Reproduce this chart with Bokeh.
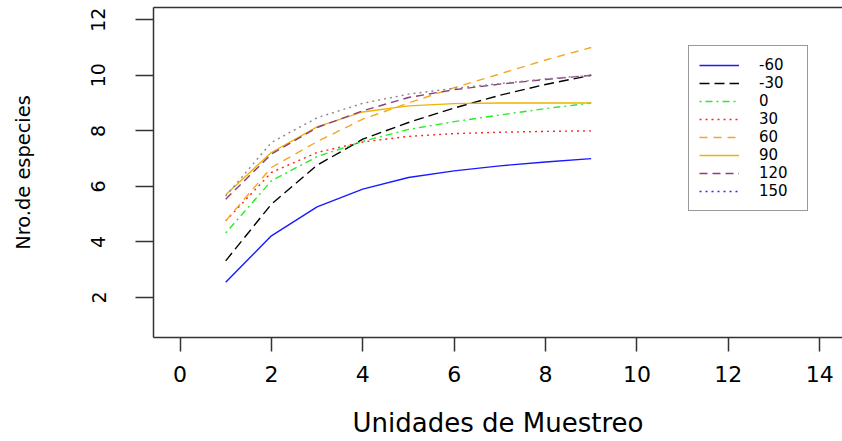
from bokeh.plotting import figure
from bokeh.models import (Range1d, LinearAxis, FixedTicker, Legend, LegendItem,
                          ColumnDataSource)
from bokeh.embed import file_html
from bokeh.resources import INLINE

# ---- data -------------------------------------------------------------
units = [1, 2, 3, 4, 5, 6, 7, 8, 9]
series_names = ["-60", "-30", "0", "30", "60", "90", "120", "150"]
s_m60 = [2.55, 4.22, 5.26, 5.90, 6.32, 6.56, 6.74, 6.88, 7.00]
s_m30 = [3.32, 5.36, 6.76, 7.70, 8.30, 8.82, 9.28, 9.67, 10.00]
s_0 = [4.32, 6.20, 7.07, 7.62, 8.05, 8.33, 8.57, 8.80, 9.00]
s_30 = [4.76, 6.50, 7.22, 7.60, 7.80, 7.90, 7.95, 7.98, 8.00]
s_60 = [4.76, 6.68, 7.61, 8.42, 9.00, 9.55, 10.05, 10.55, 11.00]
s_90 = [5.70, 7.22, 8.14, 8.68, 8.90, 8.98, 9.00, 9.00, 9.00]
s_120 = [5.54, 7.16, 8.12, 8.72, 9.20, 9.48, 9.68, 9.85, 10.00]
s_150 = [5.65, 7.58, 8.47, 8.99, 9.32, 9.53, 9.70, 9.87, 10.00]
x_ticks = [0, 2, 4, 6, 8, 10, 12, 14]
y_ticks = [2, 4, 6, 8, 10, 12]
x_title = "Unidades de Muestreo"
y_title = "Nro.de especies"

series = [s_m60, s_m30, s_0, s_30, s_60, s_90, s_120, s_150]
colors = ["#1a1aff", "#000000", "#22ee22", "#ff2222", "#f5a623", "#eeb400", "#8b3f80", "#888888"]
legend_colors = ["#1a1aff", "#000000", "#22ee22", "#ff2222", "#f5a623", "#eeb400", "#8b3f80", "#2a2aff"]
dashes = ["solid", "10 5", "2 4 7 4", "2 4", "8 6", "solid", "8 5", "2 4"]

FONT = "DejaVu Sans"
BOX = "#333333"
X0, X1 = -0.58, 14.5

p = figure(width=842, height=441, output_backend="svg", toolbar_location=None,
           x_range=Range1d(X0, X1), y_range=Range1d(0.56, 12.44),
           x_axis_type=None, y_axis_type=None,
           min_border_left=153, min_border_right=0, min_border_top=7,
           min_border_bottom=104)
p.outline_line_color = None
p.xgrid.visible = False
p.ygrid.visible = False
p.background_fill_color = "white"
p.border_fill_color = "white"

xaxis = LinearAxis(ticker=FixedTicker(ticks=x_ticks), axis_label=x_title)
xaxis.axis_line_color = BOX
xaxis.axis_line_width = 1.5
xaxis.major_tick_line_color = BOX
xaxis.major_tick_line_width = 1.5
xaxis.major_tick_out = 14
xaxis.major_tick_in = 0
xaxis.minor_tick_out = 0
xaxis.minor_tick_in = 0
xaxis.major_label_text_font = FONT
xaxis.major_label_text_font_size = "22px"
xaxis.major_label_text_color = "black"
xaxis.major_label_standoff = 14
xaxis.axis_label_text_font = FONT
xaxis.axis_label_text_font_size = "26px"
xaxis.axis_label_text_font_style = "normal"
xaxis.axis_label_text_color = "black"
xaxis.axis_label_standoff = 23
p.add_layout(xaxis, "below")

yaxis = LinearAxis(ticker=FixedTicker(ticks=y_ticks), axis_label=y_title)
yaxis.axis_line_color = BOX
yaxis.axis_line_width = 1.5
yaxis.major_tick_line_color = BOX
yaxis.major_tick_line_width = 1.5
yaxis.major_tick_out = 18
yaxis.major_tick_in = 0
yaxis.minor_tick_out = 0
yaxis.minor_tick_in = 0
yaxis.major_label_orientation = "vertical"
yaxis.major_label_text_font = FONT
yaxis.major_label_text_font_size = "19px"
yaxis.major_label_text_color = "black"
yaxis.major_label_standoff = 30
yaxis.axis_label_text_font = FONT
yaxis.axis_label_text_font_size = "19.4px"
yaxis.axis_label_text_font_style = "normal"
yaxis.axis_label_text_color = "black"
yaxis.axis_label_standoff = 54
p.add_layout(yaxis, "left")

top = LinearAxis(ticker=FixedTicker(ticks=[]))
top.axis_line_color = BOX
top.axis_line_width = 1.5
top.major_tick_out = 0
top.major_tick_in = 0
top.minor_tick_out = 0
top.minor_tick_in = 0
top.major_label_text_font_size = "0px"
top.major_label_standoff = 0
p.add_layout(top, "above")

renderers = []
for ys, c, d in zip(series, colors, dashes):
    src = ColumnDataSource(dict(x=units, y=ys))
    r = p.line("x", "y", source=src, line_color=c, line_width=1.4, line_dash=d)
    renderers.append(r)

nan = float("nan")
legend_items = []
for name, r, lc, d in zip(series_names, renderers, legend_colors, dashes):
    if lc != r.glyph.line_color:
        lr = p.line(x=[nan, nan], y=[nan, nan], line_color=lc, line_width=1.4, line_dash=d)
        legend_items.append(LegendItem(label=name, renderers=[lr]))
    else:
        legend_items.append(LegendItem(label=name, renderers=[r]))

legend = Legend(items=legend_items, location=(535, 126))
legend.padding = 10
legend.spacing = 0
legend.margin = 0
legend.glyph_width = 40
legend.glyph_height = 18
legend.label_height = 18
legend.label_width = 38
legend.label_standoff = 20
legend.label_text_font = FONT
legend.label_text_font_size = "15px"
legend.label_text_color = "black"
legend.border_line_color = BOX
legend.border_line_width = 1.5
legend.background_fill_alpha = 1.0
p.add_layout(legend, "center")

open("out.html", "w").write(file_html(p, INLINE))
